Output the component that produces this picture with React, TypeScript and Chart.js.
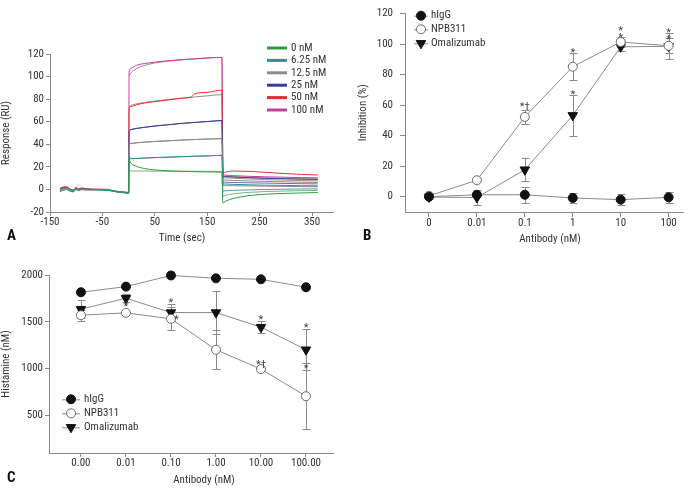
import React, { useEffect, useRef } from 'react';
import { Chart, registerables } from 'chart.js';
Chart.register(...registerables);

const FONT = "'Roboto Condensed', 'Liberation Sans', Arial, sans-serif";
const AXIS = '#8a8a8a';
const TXT = '#333333';
const LINE = '#8a8a8a';

// ---------- Panel A: sensorgram ----------
const A_TIME = [-131, -125, -118, -112, -106, -100, -95, -90, -80, -60, -40, -30, -20, -8, 0, 1, 5, 15, 30, 50, 75, 100, 120, 126, 150, 178, 180, 185, 200, 230, 260, 300, 330, 361];
const A_XTICKS = [-150, -50, 50, 150, 250, 350];
const A_YTICKS = [-20, 0, 20, 40, 60, 80, 100, 120];
const A_LABELS = ['0 nM', '6.25 nM', '12.5 nM', '25 nM', '50 nM', '100 nM'];
const A_COLORS = ['#2e9a3e', '#2f8f8f', '#8c8c8c', '#33408f', '#e03030', '#c0409a'];
const A_FITCOLORS = ['#5f9a5f', '#3f7a7a', '#707070', '#4a4a80', '#8a6a6a', '#a05888'];
const A_0NM = [-2.0, -0.8, -0.2, -1.5, -2.2, -0.3, -1.0, -0.2, -0.5, -0.5, -0.8, -1.2, -1.8, -2.2, -2.6, 26, 23, 20.5, 18.5, 17.3, 16.5, 16, 15.8, 15.7, 15.5, 15.2, -12, -10.5, -8, -5.5, -4.3, -3.5, -3.1, -2.8];
const A_6NM = [-1.2, 0.0, 0.4, -1.0, -1.8, 0.2, -0.6, 0.2, -0.2, -0.3, -0.6, -1.7, -2.4, -3.0, -3.6, 29.5, 27.3, 27.4, 27.8, 28.2, 28.6, 29, 29.3, 29.4, 29.7, 30.2, 5, 4.8, 4.5, 4.1, 3.8, 3.5, 3.3, 3.2];
const A_12NM = [-0.5, 0.6, 0.9, -0.6, -1.5, 0.5, -0.4, 0.4, -0.1, -0.2, -0.5, -1.6, -2.3, -2.9, -3.5, 40.5, 40.8, 41.3, 41.9, 42.5, 43.1, 43.7, 44.1, 44.2, 44.6, 45, 8.5, 8.3, 8, 7.5, 7.1, 6.7, 6.4, 6.2];
const A_25NM = [0.2, 1.0, 1.3, -0.2, -1.2, 0.9, -0.1, 0.7, 0.1, -0.1, -0.4, -1.5, -2.2, -2.8, -3.4, 51.5, 53, 54, 55, 56.2, 57.3, 58.5, 59.2, 59.4, 60.2, 61, 11.5, 11.3, 11, 10.4, 9.9, 9.4, 9.1, 8.8];
const A_50NM = [0.4, 1.6, 1.8, 0.1, -0.9, 1.3, 0.1, 1.0, 0.3, 0.0, -0.3, -1.4, -2.1, -2.7, -3.3, 72, 73.5, 75, 76.5, 77.8, 79.2, 80.8, 82, 84.7, 86, 88, 14.5, 15.3, 16.3, 16, 15.2, 14, 13.3, 12.8];
const A_100NM = [1.0, 2.2, 2.4, 0.6, -0.4, 1.9, 0.5, 1.4, 0.6, 0.3, 0.0, -1.0, -1.8, -2.4, -3.0, 104, 107.5, 110, 111.5, 112.8, 114, 115, 115.6, 115.8, 116.5, 117, 13, 12.6, 12.2, 11.6, 11.2, 10.8, 10.5, 10.3];
const N = null;
const A_0NM_FIT = [N, N, N, N, N, N, N, N, N, N, N, N, N, N, N, 16.4, 16.4, 16.3, 16.3, 16.2, 16.2, 16.1, 16.1, 16.1, 16, 16, -6, -5.2, -3.8, -2.6, -1.9, -1.4, -1.1, -0.9];
const A_6NM_FIT = [N, N, N, N, N, N, N, N, N, N, N, N, N, N, N, 27, 27.2, 27.4, 27.8, 28.2, 28.6, 29, 29.3, 29.4, 29.7, 30.2, -1.5, -1.2, -0.8, -0.4, -0.1, 0.2, 0.4, 0.5];
const A_12NM_FIT = [N, N, N, N, N, N, N, N, N, N, N, N, N, N, N, 40.3, 40.7, 41.3, 41.9, 42.5, 43.1, 43.7, 44.1, 44.2, 44.6, 45, 3.5, 3.4, 3.3, 3.1, 2.9, 2.7, 2.5, 2.4];
const A_25NM_FIT = [N, N, N, N, N, N, N, N, N, N, N, N, N, N, N, 52, 53.2, 54.1, 55.1, 56.2, 57.3, 58.4, 59.1, 59.3, 60.1, 61, 6.5, 6.4, 6.2, 5.9, 5.6, 5.3, 5.1, 4.9];
const A_50NM_FIT = [N, N, N, N, N, N, N, N, N, N, N, N, N, N, N, 73.5, 74.5, 75.8, 77, 78.3, 79.6, 80.8, 81.7, 81.9, 82.9, 84, 10.5, 10.3, 9.9, 9.3, 8.7, 8.2, 7.8, 7.5];
const A_100NM_FIT = [N, N, N, N, N, N, N, N, N, N, N, N, N, N, N, 101, 103.5, 107, 109.8, 112, 113.6, 114.8, 115.4, 115.6, 116.4, 117, 12, 11.6, 11.1, 10.5, 10.1, 9.7, 9.5, 9.3];

// ---------- Panel B: inhibition ----------
const B_DOSES = ['0', '0.01', '0.1', '1', '10', '100'];
const B_YTICKS = [0, 20, 40, 60, 80, 100, 120];
const B_HIGG = [0, 1.3, 1.3, -0.8, -1.9, -0.4];
const B_HIGG_ERR = [0, 0, 5.4, 3.4, 3.8, 3.4];
const B_NPB = [0.6, 10.8, 52.3, 85.2, 101.4, 98.9];
const B_NPB_ERR = [0, 0, 4.6, 9, 3.5, 5];
const B_OMA = [-0.2, -0.5, 17.7, 53.3, 98.2, 98.6];
const B_OMA_ERR = [0, 5, 7.4, 13.5, 3, 8.5];
const B_MARKS = [
  { i: 2, y: 60.3, t: '*†' },
  { i: 3, y: 96.2, t: '*' },
  { i: 3, y: 68.7, t: '*' },
  { i: 4, y: 110.3, t: '*' },
  { i: 4, y: 105.6, t: '*' },
  { i: 5, y: 109.4, t: '*' },
  { i: 5, y: 104.6, t: '*' },
];

// ---------- Panel C: histamine ----------
const C_DOSES = ['0.00', '0.01', '0.10', '1.00', '10.00', '100.00'];
const C_YTICKS = [500, 1000, 1500, 2000];
const C_HIGG = [1816, 1876, 1995, 1965, 1954, 1869];
const C_HIGG_ERR = [0, 0, 0, 0, 0, 0];
const C_NPB = [1571, 1596, 1532, 1202, 996, 706];
const C_NPB_ERR = [57, 0, 124, 210, 20, 350];
const C_OMA = [1635, 1752, 1599, 1599, 1443, 1202];
const C_OMA_ERR = [95, 40, 90, 225, 65, 220];
const C_MARKS = [
  { i: 1, y: 1691, t: '*' },
  { i: 2, y: 1730, t: '*' },
  { i: 2.12, y: 1550, t: '*' },
  { i: 4, y: 1546, t: '*' },
  { i: 4, y: 1071, t: '*†' },
  { i: 5, y: 1461, t: '*' },
  { i: 5, y: 1025, t: '*' },
];

// ---------- plugins ----------
const errorBarsPlugin = {
  id: 'errorBars',
  beforeDatasetsDraw(chart: any) {
    const ctx = chart.ctx;
    const ys = chart.scales.y;
    chart.data.datasets.forEach((ds: any, di: number) => {
      if (!ds.errors) return;
      const meta = chart.getDatasetMeta(di);
      ctx.save();
      ctx.strokeStyle = LINE;
      ctx.lineWidth = 1;
      meta.data.forEach((pt: any, i: number) => {
        const e = ds.errors[i];
        if (!e) return;
        const v = ds.data[i].y;
        const yt = Math.round(ys.getPixelForValue(v + e)) + 0.5;
        const yb = Math.round(ys.getPixelForValue(v - e)) + 0.5;
        const x = Math.round(pt.x) + 0.5;
        ctx.beginPath();
        ctx.moveTo(x, yt); ctx.lineTo(x, yb);
        ctx.moveTo(x - 4, yt); ctx.lineTo(x + 4, yt);
        ctx.moveTo(x - 4, yb); ctx.lineTo(x + 4, yb);
        ctx.stroke();
      });
      ctx.restore();
    });
  },
};

const marksPlugin = {
  id: 'marks',
  afterDatasetsDraw(chart: any, _a: any, opts: any) {
    if (!opts || !opts.items) return;
    const ctx = chart.ctx;
    ctx.save();
    ctx.fillStyle = '#444';
    ctx.font = `11px ${FONT}`;
    ctx.textAlign = 'center';
    ctx.textBaseline = 'middle';
    opts.items.forEach((m: any) => {
      const x = chart.scales.x.getPixelForValue(m.i);
      const y = chart.scales.y.getPixelForValue(m.y);
      ctx.fillText(m.t, x, y + 3);
    });
    ctx.restore();
  },
};

const xTitlePlugin = {
  id: 'xTitle',
  afterDraw(chart: any, _a: any, opts: any) {
    if (!opts || !opts.text) return;
    const ctx = chart.ctx;
    ctx.save();
    ctx.fillStyle = TXT;
    ctx.font = `${opts.size || 11}px ${FONT}`;
    ctx.textAlign = 'center';
    ctx.textBaseline = 'middle';
    ctx.fillText(opts.text, opts.x, opts.y);
    ctx.restore();
  },
};

function drawMarker(ctx: any, style: string, x: number, y: number, r: number, fill: string, stroke: string) {
  ctx.beginPath();
  if (style === 'circle') {
    ctx.arc(x, y, r, 0, Math.PI * 2);
  } else {
    ctx.moveTo(x, y + r);
    ctx.lineTo(x - 0.866 * r, y - 0.5 * r);
    ctx.lineTo(x + 0.866 * r, y - 0.5 * r);
    ctx.closePath();
  }
  ctx.fillStyle = fill;
  ctx.fill();
  ctx.strokeStyle = stroke;
  ctx.lineWidth = 1;
  ctx.stroke();
}

const lineLegendPlugin = {
  id: 'lineLegend',
  afterDraw(chart: any, _a: any, opts: any) {
    if (!opts || !opts.ys) return;
    const ctx = chart.ctx;
    ctx.save();
    ctx.font = `${opts.size}px ${FONT}`;
    ctx.textBaseline = 'middle';
    ctx.textAlign = 'left';
    opts.labels.forEach((lab: string, i: number) => {
      const y = opts.ys[i];
      ctx.strokeStyle = opts.colors[i];
      ctx.lineWidth = 3;
      ctx.beginPath();
      ctx.moveTo(opts.x0, y); ctx.lineTo(opts.x1, y);
      ctx.stroke();
      ctx.fillStyle = TXT;
      ctx.fillText(lab, opts.tx, y);
    });
    ctx.restore();
  },
};

const symLegendPlugin = {
  id: 'symLegend',
  afterDraw(chart: any, _a: any, opts: any) {
    if (!opts || !opts.ys) return;
    const ctx = chart.ctx;
    ctx.save();
    chart.data.datasets.forEach((ds: any, i: number) => {
      const y = opts.ys[i];
      ctx.strokeStyle = LINE;
      ctx.lineWidth = 1;
      ctx.beginPath();
      ctx.moveTo(opts.x0, y + 0.5); ctx.lineTo(opts.x1, y + 0.5);
      ctx.stroke();
      drawMarker(ctx, ds.pointStyle, opts.mx, y, ds.pointStyle === 'circle' ? 4.5 : 5.5, ds.pointBackgroundColor, ds.pointBorderColor);
      ctx.fillStyle = TXT;
      ctx.font = `${opts.size}px ${FONT}`;
      ctx.textBaseline = 'middle';
      ctx.textAlign = 'left';
      ctx.fillText(ds.label, opts.tx, y);
    });
    ctx.restore();
  },
};

function axis(size: number, tickLen: number, pad: number) {
  return {
    border: { display: true, color: AXIS, width: 1 },
    grid: { display: true, drawOnChartArea: false, drawTicks: true, tickLength: tickLen, color: AXIS, tickColor: AXIS },
    ticks: { color: TXT, font: { family: FONT, size }, padding: pad, maxRotation: 0, autoSkip: false, callback: (v: number) => String(v) },
  };
}

function setTicks(list: number[]) {
  return (s: any) => { s.ticks = list.map((v) => ({ value: v })); };
}

function makeA() {
  const mains = [A_0NM, A_6NM, A_12NM, A_25NM, A_50NM, A_100NM];
  const fits = [A_0NM_FIT, A_6NM_FIT, A_12NM_FIT, A_25NM_FIT, A_50NM_FIT, A_100NM_FIT];
  const datasets: any[] = [];
  mains.forEach((arr, k) => {
    datasets.push({
      label: A_LABELS[k],
      data: A_TIME.map((t, i) => ({ x: t, y: arr[i] })),
      borderColor: A_COLORS[k], borderWidth: 1, pointRadius: 0, cubicInterpolationMode: 'monotone', clip: false,
    });
  });
  fits.forEach((arr, k) => {
    datasets.push({
      label: A_LABELS[k] + ' fit',
      data: A_TIME.map((t, i) => ({ x: t, y: arr[i] })),
      borderColor: A_FITCOLORS[k], borderWidth: 0.8, pointRadius: 0, cubicInterpolationMode: 'monotone', spanGaps: false, clip: false,
    });
  });
  const ax = axis(11, 4, 2);
  const xa = axis(11, 4, 0);
  return {
    type: 'line',
    data: { datasets },
    plugins: [lineLegendPlugin, xTitlePlugin],
    options: {
      responsive: false, animation: false, events: [],
      layout: { padding: { left: 0, right: 12, top: 54, bottom: 5 } },
      plugins: {
        legend: { display: false }, tooltip: { enabled: false },
        lineLegend: { labels: A_LABELS, colors: A_COLORS, x0: 267, x1: 287, tx: 291, ys: [48, 60.4, 72.8, 85.2, 97.6, 110], size: 11 },
        xTitle: { text: 'Time (sec)', x: 182, y: 238, size: 11 },
      },
      scales: {
        x: { ...xa, type: 'linear', min: -150, max: 390, afterBuildTicks: setTicks(A_XTICKS), afterFit: (s: any) => { s.height = 33; } },
        y: {
          ...ax, type: 'linear', min: -20, max: 120, afterBuildTicks: setTicks(A_YTICKS), afterFit: (s: any) => { s.width = 50; },
          title: { display: true, text: 'Response (RU)', color: TXT, font: { family: FONT, size: 11 }, padding: { top: 0, bottom: 0 } },
        },
      },
    },
  };
}

function symbolDatasets(h: number[], he: number[], n: number[], ne: number[], o: number[], oe: number[]) {
  const mk = (vals: number[]) => vals.map((y, i) => ({ x: i, y }));
  return [
    { label: 'hIgG', data: mk(h), errors: he, borderColor: LINE, borderWidth: 1, pointStyle: 'circle', pointRadius: 4.5, pointBackgroundColor: '#111111', pointBorderColor: '#111111', clip: false },
    { label: 'NPB311', data: mk(n), errors: ne, borderColor: LINE, borderWidth: 1, pointStyle: 'circle', pointRadius: 4.5, pointBackgroundColor: '#ffffff', pointBorderColor: '#6a6a6a', clip: false },
    { label: 'Omalizumab', data: mk(o), errors: oe, borderColor: LINE, borderWidth: 1, pointStyle: 'triangle', pointRotation: 180, pointRadius: 5.5, pointBackgroundColor: '#111111', pointBorderColor: '#111111', clip: false },
  ];
}

function makeB() {
  const ya = axis(11, 5, 7);
  const xa = axis(11, 5, 0);
  return {
    type: 'line',
    data: { datasets: symbolDatasets(B_HIGG, B_HIGG_ERR, B_NPB, B_NPB_ERR, B_OMA, B_OMA_ERR) },
    plugins: [errorBarsPlugin, marksPlugin, symLegendPlugin, xTitlePlugin],
    options: {
      responsive: false, animation: false, events: [],
      layout: { padding: { left: 0, right: 10, top: 7, bottom: 4 } },
      plugins: {
        legend: { display: false }, tooltip: { enabled: false },
        marks: { items: B_MARKS },
        symLegend: { x0: 74, x1: 88, mx: 81, tx: 91, ys: [15.7, 29.3, 43.3], size: 11 },
        xTitle: { text: 'Antibody (nM)', x: 210, y: 239, size: 11 },
      },
      scales: {
        x: {
          ...xa, type: 'linear', min: -0.5, max: 5.3, afterBuildTicks: setTicks([0, 1, 2, 3, 4, 5]),
          ticks: { ...xa.ticks, callback: (v: number) => B_DOSES[v] },
          afterFit: (s: any) => { s.height = 34; },
        },
        y: {
          ...ya, type: 'linear', min: -10, max: 120, afterBuildTicks: setTicks(B_YTICKS), afterFit: (s: any) => { s.width = 65; },
          title: { display: true, text: 'Inhibition (%)', color: TXT, font: { family: FONT, size: 11 }, padding: { top: 17, bottom: 0 } },
        },
      },
    },
  };
}

function makeC() {
  const ya = axis(11, 4, 2);
  const xa = axis(11, 4, 0);
  return {
    type: 'line',
    data: { datasets: symbolDatasets(C_HIGG, C_HIGG_ERR, C_NPB, C_NPB_ERR, C_OMA, C_OMA_ERR) },
    plugins: [errorBarsPlugin, marksPlugin, symLegendPlugin, xTitlePlugin],
    options: {
      responsive: false, animation: false, events: [],
      layout: { padding: { left: 0, right: 12, top: 30, bottom: 3 } },
      plugins: {
        legend: { display: false }, tooltip: { enabled: false },
        marks: { items: C_MARKS },
        symLegend: { x0: 62, x1: 80, mx: 71, tx: 84, ys: [154.3, 168.3, 182.3], size: 11 },
        xTitle: { text: 'Antibody (nM)', x: 204, y: 235, size: 11 },
      },
      scales: {
        x: {
          ...xa, type: 'linear', min: -0.71, max: 5.6, afterBuildTicks: setTicks([0, 1, 2, 3, 4, 5]),
          ticks: { ...xa.ticks, callback: (v: number) => C_DOSES[v] },
          afterFit: (s: any) => { s.height = 34; },
        },
        y: {
          ...ya, type: 'linear', min: 100, max: 2000, afterBuildTicks: setTicks(C_YTICKS), afterFit: (s: any) => { s.width = 49; },
          title: { display: true, text: 'Histamine (nM)', color: TXT, font: { family: FONT, size: 11 }, padding: { top: 0, bottom: 0 } },
        },
      },
    },
  };
}

function Panel({ make, left, top, width, height }: any) {
  const ref = useRef<HTMLCanvasElement>(null);
  useEffect(() => {
    const chart = new Chart(ref.current as HTMLCanvasElement, make() as any);
    return () => chart.destroy();
  }, []);
  return <canvas ref={ref} width={width} height={height} style={{ position: 'absolute', left, top, width, height }} />;
}

const letterStyle: any = { position: 'absolute', fontFamily: '"Roboto Condensed", Arial, sans-serif', fontWeight: 'bold', fontSize: 15, lineHeight: '18px', color: '#111' };

export default function App() {
  return (
    <div style={{ position: 'absolute', left: 0, top: 0, width: 693, height: 490, background: '#ffffff', overflow: 'hidden' }}>
      <Panel make={makeA} left={0} top={0} width={345} height={250} />
      <Panel make={makeB} left={340} top={0} width={353} height={250} />
      <Panel make={makeC} left={0} top={245} width={345} height={245} />
      <div style={{ ...letterStyle, left: 7, top: 226 }}>A</div>
      <div style={{ ...letterStyle, left: 363, top: 226 }}>B</div>
      <div style={{ ...letterStyle, left: 7, top: 468 }}>C</div>
    </div>
  );
}
